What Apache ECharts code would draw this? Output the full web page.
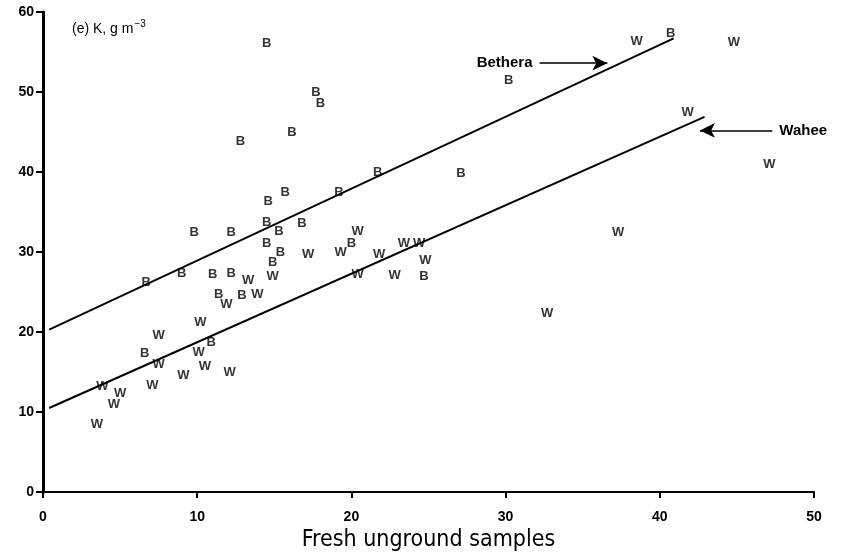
<!DOCTYPE html>
<html>
<head>
<meta charset="utf-8">
<script src="https://cdn.jsdelivr.net/npm/echarts@6/dist/echarts.min.js"></script>
<style>
  html, body { margin: 0; padding: 0; background: #fff; }
  #main { width: 844px; height: 554px; }
</style>
</head>
<body>
<div id="main"></div>
<script>
// Bethera samples (B)
var bX = [14.5, 30.2, 40.7, 17.7, 18.0, 16.15, 12.8, 21.7, 27.1, 19.2, 15.7, 14.6, 14.5, 16.8, 15.3,
          9.8, 12.2, 14.5, 20.0, 15.4, 14.9, 9.0, 11.0, 12.2, 6.7, 11.4, 12.9, 24.7, 6.6, 10.9];
var bY = [56.1, 51.4, 57.3, 50.0, 48.6, 45.0, 43.8, 39.9, 39.8, 37.4, 37.4, 36.3, 33.7, 33.6, 32.6,
          32.5, 32.5, 31.1, 31.1, 29.9, 28.7, 27.3, 27.2, 27.3, 26.2, 24.7, 24.6, 26.9, 17.3, 18.7];
// Wahee samples (W)
var wX = [38.5, 44.8, 41.8, 47.1, 37.3, 32.7, 20.4, 19.3, 17.2, 21.8, 23.4, 24.4, 24.8, 20.4, 22.8, 14.9,
          13.3, 13.9, 11.9, 10.2, 7.5, 10.1, 7.5, 10.5, 9.1, 12.1, 7.1, 3.85, 5.0, 4.6, 3.5];
var wY = [56.3, 56.2, 47.4, 40.9, 32.5, 22.3, 32.6, 29.9, 29.75, 29.75, 31.1, 31.1, 28.9, 27.2, 27.1, 27.0,
          26.4, 24.7, 23.4, 21.2, 19.6, 17.5, 15.9, 15.75, 14.6, 14.9, 13.3, 13.25, 12.3, 10.9, 8.4];
// fitted lines (end points)
var betheraLineX = [0.4, 40.9];
var betheraLineY = [20.3, 56.7];
var waheeLineX = [0.4, 42.9];
var waheeLineY = [10.5, 46.9];
// arrows
var betheraArrowX = [32.2, 36.6];
var betheraArrowY = 53.6;
var waheeArrowX = [47.3, 42.6];
var waheeArrowY = 45.2;

function pairs(xs, ys) {
    return xs.map(function (x, i) { return [x, ys[i]]; });
}

var chart = echarts.init(document.getElementById('main'));

var letterLabel = function (txt) {
    return {
        show: true,
        position: 'inside',
        formatter: txt,
        color: '#000',
        fontFamily: 'Liberation Sans, Arial, sans-serif',
        fontWeight: 'bold',
        fontSize: 13
    };
};

var option = {
    backgroundColor: '#fff',
    animation: false,
    title: {
        text: '{a|(e) K, g m}{s|\u22123}',
        left: 67,
        top: 14,
        textStyle: {
            rich: {
                a: { fontFamily: 'Liberation Sans, Arial, sans-serif', fontSize: 14, fontWeight: 'normal', color: '#000' },
                s: { fontFamily: 'Liberation Sans, Arial, sans-serif', fontSize: 10, fontWeight: 'normal', color: '#000', padding: [0, 0, 10, 1] }
            }
        }
    },
    grid: { left: 43, right: 30, top: 12, bottom: 62, outerBoundsMode: 'none' },
    xAxis: {
        type: 'value',
        min: 0, max: 50, interval: 10,
        name: 'Fresh unground samples',
        nameLocation: 'middle',
        nameGap: 33,
        nameTextStyle: { fontFamily: 'DejaVu Sans Condensed, Liberation Sans Narrow, Liberation Sans, sans-serif', fontSize: 23, color: '#000' },
        axisLine: { lineStyle: { color: '#000', width: 2 } },
        axisTick: { length: 6, lineStyle: { color: '#000', width: 2 } },
        axisLabel: { margin: 18, color: '#000', fontFamily: 'Liberation Sans, Arial, sans-serif', fontWeight: 'bold', fontSize: 14 },
        splitLine: { show: false }
    },
    yAxis: {
        type: 'value',
        min: 0, max: 60, interval: 10,
        axisLine: { show: true, lineStyle: { color: '#000', width: 3 } },
        axisTick: { show: true, length: 7, lineStyle: { color: '#000', width: 2 } },
        axisLabel: { margin: 9, color: '#000', fontFamily: 'Liberation Sans, Arial, sans-serif', fontWeight: 'bold', fontSize: 14 },
        splitLine: { show: false }
    },
    series: [
        {
            name: 'B', type: 'scatter', symbolSize: 0.1,
            data: pairs(bX, bY),
            label: letterLabel('B'),
            itemStyle: { color: 'transparent' }
        },
        {
            name: 'W', type: 'scatter', symbolSize: 0.1,
            data: pairs(wX, wY),
            label: letterLabel('W'),
            itemStyle: { color: 'transparent' }
        },
        {
            name: 'Bethera fit', type: 'line', symbol: 'none',
            data: pairs(betheraLineX, betheraLineY),
            lineStyle: { color: '#000', width: 2 },
            markLine: {
                silent: true,
                symbol: ['none', 'arrow'],
                symbolSize: [11, 15],
                lineStyle: { color: '#000', width: 1.5, type: 'solid' },
                label: {
                    show: true, position: 'start', distance: 7, formatter: 'Bethera',
                    color: '#000', fontFamily: 'Liberation Sans, Arial, sans-serif', fontWeight: 'bold', fontSize: 15
                },
                data: [[
                    { coord: [betheraArrowX[0], betheraArrowY] },
                    { coord: [betheraArrowX[1], betheraArrowY] }
                ]]
            }
        },
        {
            name: 'Wahee fit', type: 'line', symbol: 'none',
            data: pairs(waheeLineX, waheeLineY),
            lineStyle: { color: '#000', width: 2 },
            markLine: {
                silent: true,
                symbol: ['none', 'arrow'],
                symbolSize: [11, 15],
                lineStyle: { color: '#000', width: 1.5, type: 'solid' },
                label: {
                    show: true, position: 'start', distance: 7, formatter: 'Wahee',
                    color: '#000', fontFamily: 'Liberation Sans, Arial, sans-serif', fontWeight: 'bold', fontSize: 15
                },
                data: [[
                    { coord: [waheeArrowX[0], waheeArrowY] },
                    { coord: [waheeArrowX[1], waheeArrowY] }
                ]]
            }
        }
    ]
};

chart.setOption(option);
</script>
</body>
</html>
